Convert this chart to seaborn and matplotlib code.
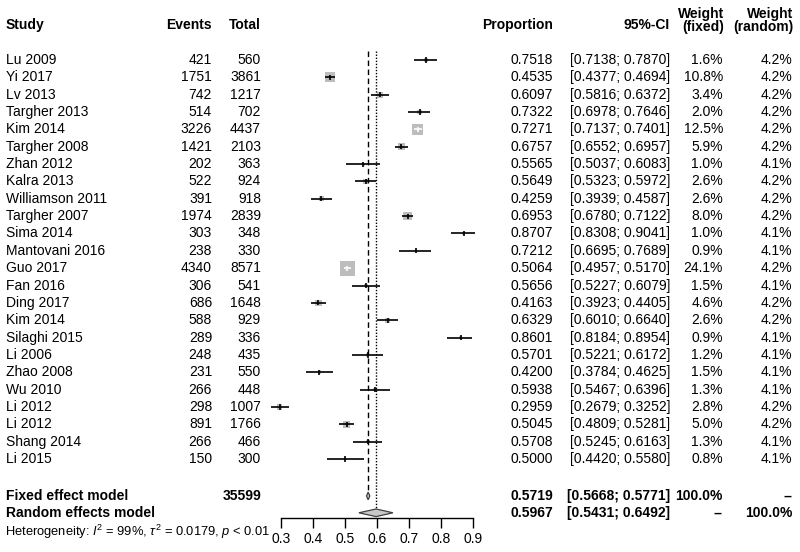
import numpy as np
import pandas as pd
import matplotlib
matplotlib.use("Agg")
import matplotlib.pyplot as plt
import matplotlib.transforms as mtransforms
import seaborn as sns

# Study-level data
studies = ["Lu 2009", "Yi 2017", "Lv 2013", "Targher 2013", "Kim 2014", "Targher 2008",
           "Zhan 2012", "Kalra 2013", "Williamson 2011", "Targher 2007", "Sima 2014",
           "Mantovani 2016", "Guo 2017", "Fan 2016", "Ding 2017", "Kim 2014", "Silaghi 2015",
           "Li 2006", "Zhao 2008", "Wu 2010", "Li 2012", "Li 2012", "Shang 2014", "Li 2015"]
events = [421, 1751, 742, 514, 3226, 1421, 202, 522, 391, 1974, 303, 238, 4340, 306, 686,
          588, 289, 248, 231, 266, 298, 891, 266, 150]
total = [560, 3861, 1217, 702, 4437, 2103, 363, 924, 918, 2839, 348, 330, 8571, 541, 1648,
         929, 336, 435, 550, 448, 1007, 1766, 466, 300]
prop = [0.7518, 0.4535, 0.6097, 0.7322, 0.7271, 0.6757, 0.5565, 0.5649, 0.4259, 0.6953,
        0.8707, 0.7212, 0.5064, 0.5656, 0.4163, 0.6329, 0.8601, 0.5701, 0.4200, 0.5938,
        0.2959, 0.5045, 0.5708, 0.5000]
ci_lo = [0.7138, 0.4377, 0.5816, 0.6978, 0.7137, 0.6552, 0.5037, 0.5323, 0.3939, 0.6780,
         0.8308, 0.6695, 0.4957, 0.5227, 0.3923, 0.6010, 0.8184, 0.5221, 0.3784, 0.5467,
         0.2679, 0.4809, 0.5245, 0.4420]
ci_hi = [0.7870, 0.4694, 0.6372, 0.7646, 0.7401, 0.6957, 0.6083, 0.5972, 0.4587, 0.7122,
         0.9041, 0.7689, 0.5170, 0.6079, 0.4405, 0.6640, 0.8954, 0.6172, 0.4625, 0.6396,
         0.3252, 0.5281, 0.6163, 0.5580]
w_fixed = [1.6, 10.8, 3.4, 2.0, 12.5, 5.9, 1.0, 2.6, 2.6, 8.0, 1.0, 0.9, 24.1, 1.5, 4.6,
           2.6, 0.9, 1.2, 1.5, 1.3, 2.8, 5.0, 1.3, 0.8]
w_random = [4.2, 4.2, 4.2, 4.2, 4.2, 4.2, 4.1, 4.2, 4.2, 4.2, 4.1, 4.1, 4.2, 4.1, 4.2,
            4.2, 4.1, 4.1, 4.1, 4.1, 4.2, 4.2, 4.1, 4.1]

# Pooled estimates
fixed_est, fixed_lo, fixed_hi = 0.5719, 0.5668, 0.5771
random_est, random_lo, random_hi = 0.5967, 0.5431, 0.6492
total_n = 35599
het_text = r"Heterogeneity: $I^2$ = 99%, $\tau^2$ = 0.0179, $p$ < 0.01"
x_ticks = [0.3, 0.4, 0.5, 0.6, 0.7, 0.8, 0.9]

sns.set_theme(style="white")
plt.rcParams['font.family'] = ['Liberation Sans', 'DejaVu Sans']
plt.rcParams['mathtext.fontset'] = 'custom'
plt.rcParams['mathtext.rm'] = 'Liberation Sans'
plt.rcParams['mathtext.it'] = 'Liberation Sans:italic'

fig = plt.figure(figsize=(8, 5.52), dpi=100)
ax = fig.add_axes([0, 0, 1, 1])

n = len(studies)
df = pd.DataFrame({"study": studies, "prop": prop, "lo": ci_lo, "hi": ci_hi,
                   "w": w_fixed, "row": np.arange(n)})
fixed_row = n + 1.13
random_row = n + 2.1
axis_row = n + 2.4
het_row = n + 3.2
head_row = -2.0

px_per_unit = 320.5
side_px = 15 * np.sqrt(df["w"] / 24.1)
df["s"] = (side_px * 0.72) ** 2
# line drawn white when the CI fits inside the square (as R meta does)
inside = (df["hi"] - df["lo"]) * px_per_unit < side_px
line_cols = np.where(inside, "white", "black")

sns.scatterplot(data=df, x="prop", y="row", marker="s", s=df["s"].values,
                color="#bdbdbd", edgecolor="none", ax=ax, legend=False, zorder=2)
ax.hlines(df["row"], df["lo"], df["hi"], colors=line_cols, linewidth=1.2, zorder=3)
ax.scatter(df["prop"], df["row"], marker="|", s=14, c=line_cols, linewidths=1.2, zorder=4)

# reference lines
ax.vlines(fixed_est, -0.5, fixed_row, colors="black", linestyles=(0, (4, 2.5)), linewidth=1)
ax.vlines(random_est, -0.5, random_row, colors="black", linestyles=(0, (1, 1.2)), linewidth=1)

# diamonds
h = 0.22
for est, lo, hi, r in [(fixed_est, fixed_lo, fixed_hi, fixed_row),
                       (random_est, random_lo, random_hi, random_row)]:
    ax.fill([lo, est, hi, est], [r, r - h, r, r + h], facecolor="#c8c8c8",
            edgecolor="#404040", linewidth=0.9, zorder=3)

ax.set_xlim(0.3 - 281 / px_per_unit, 0.9 + (800 - 473.3) / px_per_unit)
ax.set_ylim(28.36, -3.46)
ax.set_yticks([])
ax.set_xlabel("")
ax.set_ylabel("")
for s in ["top", "left", "right"]:
    ax.spines[s].set_visible(False)
ax.spines["bottom"].set_position(("data", axis_row))
ax.spines["bottom"].set_bounds(0.3, 0.9)
ax.spines["bottom"].set_color("black")
ax.spines["bottom"].set_linewidth(1)
ax.set_xticks(x_ticks)
ax.set_xticklabels([f"{t:.1f}" for t in x_ticks])
ax.tick_params(axis="x", bottom=True, direction="out", length=7, width=1,
               colors="black", labelsize=10, pad=3)

# text columns
tr = mtransforms.blended_transform_factory(fig.transFigure, ax.transData)
fs = 10
def put(xpx, y, s, ha="right", bold=False, size=fs):
    ax.text(xpx / 800, y, s, transform=tr, ha=ha, va="center", fontsize=size,
            fontweight="bold" if bold else "normal", color="black")

put(6, head_row, "Study", ha="left", bold=True)
put(212, head_row, "Events", bold=True)
put(261, head_row, "Total", bold=True)
put(553, head_row, "Proportion", bold=True)
put(670, head_row, "95%-CI", bold=True)
put(724, -2.64, "Weight", bold=True)
put(724, -1.92, "(fixed)", bold=True)
put(793, -2.64, "Weight", bold=True)
put(793, -1.92, "(random)", bold=True)

for i in range(n):
    put(6, i, studies[i], ha="left")
    put(212, i, str(events[i]))
    put(261, i, str(total[i]))
    put(553, i, f"{prop[i]:.4f}")
    put(670, i, f"[{ci_lo[i]:.4f}; {ci_hi[i]:.4f}]")
    put(723, i, f"{w_fixed[i]:.1f}%")
    put(792, i, f"{w_random[i]:.1f}%")

put(6, fixed_row, "Fixed effect model", ha="left", bold=True)
put(261, fixed_row, str(total_n), bold=True)
put(553, fixed_row, f"{fixed_est:.4f}", bold=True)
put(670, fixed_row, f"[{fixed_lo:.4f}; {fixed_hi:.4f}]", bold=True)
put(723, fixed_row, "100.0%", bold=True)
put(792, fixed_row, "--", bold=True)

put(6, random_row, "Random effects model", ha="left", bold=True)
put(553, random_row, f"{random_est:.4f}", bold=True)
put(670, random_row, f"[{random_lo:.4f}; {random_hi:.4f}]", bold=True)
put(723, random_row, "--", bold=True)
put(792, random_row, "100.0%", bold=True)

put(5, het_row, het_text, ha="left", size=9.3)

fig.savefig("out.png", dpi=100, facecolor="white")
